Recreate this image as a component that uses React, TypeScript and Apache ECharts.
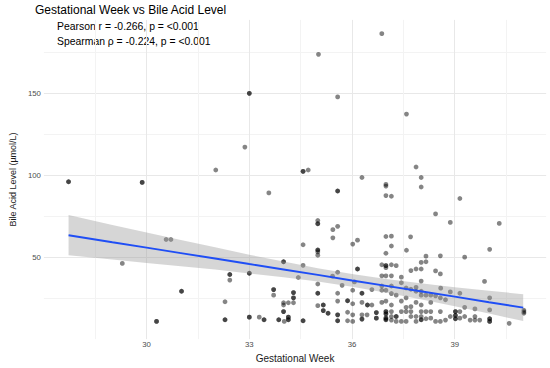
import React, { useEffect, useRef } from 'react';
import * as echarts from 'echarts';

// Scatter data (gestational week, bile acid level µmol/L); repeated pairs are overlapping patients
const gestationalWeek = [
  27.72, 27.72, 29.87, 29.87, 29.29, 30.57, 30.71, 31.02, 31.02, 30.29, 30.29,
  32.02, 32.87, 33.0, 33.0, 34.57, 34.57, 34.72, 36.87, 35.02, 35.58, 37.59, 37.87, 33.57,
  32.43, 32.43, 32.43, 32.29, 32.29, 32.29, 33.0, 33.0, 33.0, 33.0, 33.29, 33.43, 33.43,
  33.86, 33.86, 34.02, 34.14, 34.14, 34.14, 34.14, 34.0, 34.0, 33.71, 33.71, 33.71,
  34.0, 34.14, 34.29, 34.0, 34.0, 34.0, 34.29, 34.29, 34.29, 34.29, 34.57, 34.57, 34.43, 34.57, 34.57,
  36.29, 38.02, 36.99, 36.99, 38.02, 35.58, 35.58, 36.99, 37.15, 39.15, 38.44,
  35.0, 35.0, 35.0, 38.87, 40.3, 35.44, 35.58, 35.44, 36.02, 36.16, 36.99, 37.15, 37.71, 37.15,
  35.0, 35.0, 35.0, 35.0, 36.99, 37.59, 40.02, 38.16, 38.58, 39.29, 38.02, 38.16,
  36.87, 36.99, 36.99, 36.99, 37.15, 37.29, 37.72, 37.87, 38.02, 36.16, 36.16,
  36.87, 36.99, 37.15, 38.44, 38.58, 39.87, 35.0, 35.58, 35.43, 35.71, 36.07, 35.0, 35.0,
  35.58, 35.58, 36.02, 36.29, 36.29, 36.58, 36.87, 36.87, 36.99, 37.15, 37.15, 37.29,
  37.44, 37.44, 37.58, 37.72, 37.87, 37.87, 38.02, 38.02, 38.16, 38.3, 38.44, 38.58,
  38.73, 38.87, 39.15, 39.29, 39.59, 40.02, 40.02, 41.02, 41.02, 41.02,
  35.0, 35.16, 35.16, 35.16, 35.16, 35.3, 35.3, 35.87, 35.87, 35.87, 36.02, 36.29, 36.45, 36.45, 36.58,
  36.71, 36.71, 36.71, 36.71, 36.87, 36.99, 37.15,
  36.99, 36.99, 36.99, 36.99, 36.99, 36.99, 36.99, 36.99, 37.15, 37.15, 37.15, 37.29, 37.29, 37.29,
  37.44, 37.44, 37.44, 37.58, 37.58, 37.58, 37.58, 37.72, 37.72, 37.72, 37.87, 37.87, 37.87,
  38.02, 38.02, 38.02, 38.02, 38.02, 38.16, 38.16, 38.3, 38.3, 38.3, 38.44, 38.58, 38.58,
  38.73, 38.87, 39.02, 39.02, 39.02, 39.02, 39.02, 39.02, 39.15, 39.15, 39.29, 39.45, 39.59, 39.59,
  39.73, 40.02, 40.02, 40.02, 40.02, 40.59,
  35.58, 35.58, 35.58, 35.58, 35.87, 36.02, 36.02, 36.29, 36.29, 36.29, 36.44, 38.02, 38.59,
];
const bileAcidLevel = [
  96.0, 96.0, 95.6, 95.6, 46.2, 60.8, 60.8, 29.2, 29.2, 10.8, 10.8,
  103.2, 117.2, 150.0, 150.0, 102.4, 102.4, 103.2, 186.4, 173.8, 147.8, 137.3, 105.0, 89.2,
  39.4, 39.4, 36.0, 22.8, 11.8, 11.8, 40.2, 40.2, 13.4, 13.4, 13.4, 11.8, 11.8,
  11.8, 11.8, 10.8, 13.4, 13.4, 11.8, 11.8, 47.2, 47.2, 30.2, 30.2, 26.8,
  22.2, 22.2, 22.2, 20.8, 16.8, 16.8, 28.4, 28.4, 25.2, 25.2, 57.6, 45.0, 37.6, 11.2, 11.2,
  98.6, 98.6, 94.4, 93.4, 92.8, 90.4, 90.4, 87.6, 87.2, 85.8, 76.4,
  72.4, 70.4, 70.4, 71.2, 70.6, 66.8, 68.8, 61.8, 58.0, 60.4, 62.6, 62.8, 62.4, 56.8,
  54.4, 54.4, 53.2, 51.2, 52.4, 54.2, 54.8, 50.6, 50.8, 50.0, 46.8, 47.2,
  45.4, 44.8, 44.8, 43.6, 45.4, 44.8, 41.8, 42.8, 42.8, 42.8, 42.8,
  38.6, 38.6, 38.6, 41.6, 39.8, 35.2, 33.6, 40.8, 38.4, 32.8, 34.9, 28.0, 28.0,
  28.0, 23.2, 29.8, 28.0, 28.0, 30.2, 32.4, 29.8, 29.8, 32.4, 27.8, 26.8,
  37.8, 34.4, 31.2, 30.4, 31.6, 29.2, 29.2, 26.8, 26.8, 26.8, 26.4, 25.2,
  24.0, 28.8, 28.0, 19.4, 18.4, 25.2, 17.8, 17.6, 16.6, 15.8,
  20.4, 20.8, 20.8, 17.4, 17.4, 15.8, 15.8, 23.4, 23.4, 16.4, 21.6, 22.4, 20.8, 20.8, 20.8,
  16.2, 16.2, 12.8, 12.8, 22.4, 23.2, 20.8,
  16.8, 16.8, 15.4, 15.4, 12.8, 12.8, 11.8, 11.8, 16.8, 13.8, 11.6, 13.8, 13.8, 10.8,
  23.2, 16.8, 10.8, 25.2, 19.4, 16.8, 10.8, 19.8, 16.8, 13.8, 22.4, 13.8, 10.8,
  20.8, 16.8, 13.8, 11.8, 11.8, 16.8, 12.4, 22.4, 16.8, 12.8, 10.8, 16.8, 10.8,
  11.6, 13.8, 16.8, 16.8, 14.4, 14.4, 12.4, 12.4, 16.8, 12.8, 13.8, 11.6, 13.8, 11.6,
  11.6, 12.4, 12.4, 10.8, 10.8, 9.6,
  14.8, 14.8, 11.2, 11.2, 11.2, 10.8, 14.8, 14.8, 12.2, 12.2, 14.8, 35.4, 31.1,
];

// Linear fit and its 95% confidence band
const fitWeek = [27.72, 29, 30, 31, 32, 33, 34, 35, 36, 37, 38, 39, 40, 41.0];
const fitValue = [63.4, 59.1, 55.8, 52.5, 49.2, 45.8, 42.5, 39.2, 35.8, 32.5, 29.2, 25.9, 22.5, 19.2];
const ciLower = [51.1, 48.6, 46.5, 44.5, 42.4, 40.1, 37.7, 35.1, 31.9, 28.3, 24.3, 20.0, 15.6, 11.0];
const ciUpper = [75.7, 69.7, 65.1, 60.5, 56.0, 51.5, 47.3, 43.3, 39.7, 36.7, 34.1, 31.7, 29.5, 27.4];

const xTickLabels = [30, 33, 36, 39];
const yTickLabels = [50, 100, 150];

const FONT = '"Liberation Sans", Arial, Helvetica, sans-serif';

export default function App() {
  const ref = useRef<HTMLDivElement>(null);

  useEffect(() => {
    if (!ref.current) return;
    const chart = echarts.init(ref.current, undefined, { renderer: 'svg' });
    const isTick = (list: number[], v: number) => list.some((t) => Math.abs(t - v) < 1e-6);

    chart.setOption({
      animation: false,
      backgroundColor: '#ffffff',
      grid: { left: 32.7, right: 3.85, top: 19.9, bottom: 23.3, containLabel: false },
      graphic: [
        {
          type: 'text', x: 35, y: 10,
          style: { text: 'Gestational Week vs Bile Acid Level', font: `12px ${FONT}`, fill: '#000000', verticalAlign: 'middle' },
        },
        {
          type: 'text', x: 57, y: 26.7,
          style: { text: 'Pearson r = -0.266, p = <0.001', font: `10.4px ${FONT}`, fill: '#000000', verticalAlign: 'middle' },
        },
        {
          type: 'text', x: 57, y: 41.7,
          style: { text: 'Spearman ρ = -0.224, p = <0.001', font: `10.4px ${FONT}`, fill: '#000000', verticalAlign: 'middle' },
        },
      ],
      xAxis: {
        type: 'value',
        min: 27,
        max: 41.67,
        interval: 1.5,
        name: 'Gestational Week',
        nameLocation: 'middle',
        nameGap: 9,
        nameTextStyle: { fontFamily: FONT, fontSize: 10, color: '#1a1a1a' },
        axisLine: { show: false },
        axisTick: { show: false },
        axisLabel: {
          margin: 1,
          fontSize: 7.8,
          color: '#4d4d4d',
          fontFamily: FONT,
          showMinLabel: false,
          showMaxLabel: false,
          formatter: (v: number) => (isTick(xTickLabels, v) ? String(Math.round(v)) : ''),
        },
        splitLine: {
          show: true,
          showMinLine: false,
          showMaxLine: false,
          lineStyle: { color: ['#f3f3f3', '#e8e8e8'], width: 1 },
        },
      },
      yAxis: {
        type: 'value',
        min: 0,
        max: 194.8,
        interval: 25,
        name: 'Bile Acid Level (µmol/L)',
        nameLocation: 'middle',
        nameGap: 21,
        nameTextStyle: { fontFamily: FONT, fontSize: 9, color: '#1a1a1a' },
        axisLine: { show: false },
        axisTick: { show: false },
        axisLabel: {
          margin: 3,
          fontSize: 7.8,
          color: '#4d4d4d',
          fontFamily: FONT,
          showMinLabel: false,
          showMaxLabel: false,
          formatter: (v: number) => (isTick(yTickLabels, v) ? String(Math.round(v)) : ''),
        },
        splitLine: {
          show: true,
          showMinLine: false,
          showMaxLine: false,
          lineStyle: { color: ['#f3f3f3', '#e8e8e8'], width: 1 },
        },
      },
      series: [
        {
          type: 'scatter',
          silent: true,
          symbolSize: 4.8,
          itemStyle: { color: 'rgba(0,0,0,0.6)' },
          data: gestationalWeek.map((w, i) => [w, bileAcidLevel[i]]),
          z: 2,
        },
        {
          type: 'custom',
          silent: true,
          z: 3,
          data: fitWeek.map((w, i) => [w, ciLower[i], ciUpper[i]]),
          encode: { x: 0, y: [1, 2] },
          renderItem: (params: any, api: any) => {
            if (params.dataIndex !== 0) return null;
            const upper = fitWeek.map((w, i) => api.coord([w, ciUpper[i]]));
            const lower = fitWeek.map((w, i) => api.coord([w, ciLower[i]])).reverse();
            return {
              type: 'polygon',
              shape: { points: upper.concat(lower) },
              style: { fill: 'rgba(153,153,153,0.4)', stroke: 'none' },
            };
          },
        },
        {
          type: 'line',
          silent: true,
          z: 4,
          symbol: 'none',
          data: fitWeek.map((w, i) => [w, fitValue[i]]),
          lineStyle: { color: '#1f4ef5', width: 1.9 },
        },
      ],
    });

    return () => chart.dispose();
  }, []);

  return (
    <div
      ref={ref}
      style={{ position: 'fixed', left: 0, top: 0, width: 550, height: 368, background: '#fff' }}
    />
  );
}
